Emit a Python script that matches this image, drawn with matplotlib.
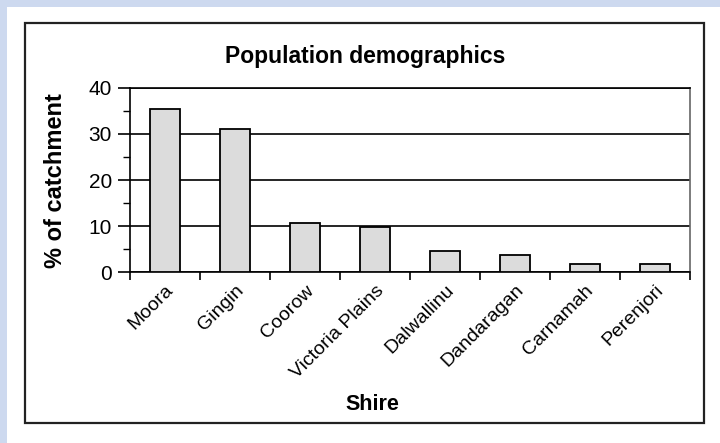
import numpy as np
import matplotlib
matplotlib.use('Agg')
import matplotlib.pyplot as plt
from matplotlib.patches import Rectangle
from matplotlib.ticker import MultipleLocator

plt.rcParams['font.family'] = ['Liberation Sans', 'DejaVu Sans']

# data
shires = ['Moora', 'Gingin', 'Coorow', 'Victoria Plains', 'Dalwallinu',
          'Dandaragan', 'Carnamah', 'Perenjori']
pct = [35.4, 31.1, 10.6, 9.8, 4.6, 3.6, 1.7, 1.7]

W, H = 720, 443
fig = plt.figure(figsize=(W / 100, H / 100), dpi=100)
fig.patch.set_facecolor('#cdd9ef')

def fx(px):
    return px / W

def fy(py):
    return 1 - py / H

# white panel + black frame
fig.patches.append(Rectangle((fx(7), 0), 1 - fx(7), fy(7), transform=fig.transFigure,
                             facecolor='white', edgecolor='none', zorder=-2))
fig.patches.append(Rectangle((fx(25), fy(423)), fx(704) - fx(25), fy(23) - fy(423),
                             transform=fig.transFigure, facecolor='none',
                             edgecolor='#222222', lw=1.6, zorder=-1))

ax = fig.add_axes([fx(130), fy(272), fx(690) - fx(130), fy(88) - fy(272)])
ax.set_zorder(2)
ax.set_facecolor('white')
x = np.arange(len(shires))
ax.bar(x, pct, width=0.42, color='#dcdcdc', edgecolor='black', lw=1.3, zorder=3)

ax.set_xlim(-0.5, len(shires) - 0.5)
ax.set_ylim(0, 40)
ax.yaxis.set_major_locator(MultipleLocator(10))
ax.yaxis.set_minor_locator(MultipleLocator(5))
ax.grid(axis='y', which='major', color='black', lw=1.2, zorder=1)
ax.set_axisbelow(True)

ax.set_xticks(np.arange(-0.5, len(shires), 1.0))
ax.set_xticklabels([])
ax.set_xticks(x, minor=True)
ax.set_xticklabels(shires, minor=True, rotation=45, ha='right', va='top',
                   rotation_mode='anchor', fontsize=14)
ax.tick_params(axis='x', which='major', direction='out', length=6, width=1.2)
ax.tick_params(axis='x', which='minor', length=0, pad=7)
ax.tick_params(axis='y', which='major', direction='out', length=9, width=1.2,
               labelsize=15, pad=4)
ax.tick_params(axis='y', which='minor', direction='out', length=5, width=1.0)
for s in ax.spines.values():
    s.set_linewidth(1.2)
ax.spines['right'].set_color('#666666')

fig.text(fx(365), fy(57), 'Population demographics', ha='center', va='center',
         fontsize=16.5, fontweight='bold')
fig.text(fx(55), fy(181), '% of catchment', ha='center', va='center',
         rotation=90, fontsize=17, fontweight='bold')
fig.text(fx(372), fy(404), 'Shire', ha='center', va='center',
         fontsize=15.5, fontweight='bold')

fig.savefig('out.png', dpi=100, facecolor=fig.get_facecolor())
